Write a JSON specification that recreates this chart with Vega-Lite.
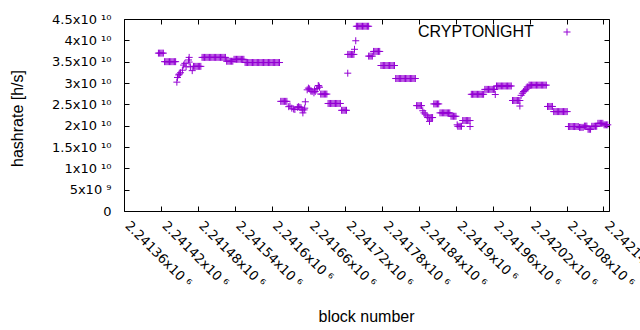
{
"$schema": "https://vega.github.io/schema/vega-lite/v6.json",
"width": 485, "height": 192,
"autosize": "none",
"padding": {"left": 124, "top": 19, "right": 31, "bottom": 119},
"background": "white",
"config": {
  "font": "Liberation Sans",
  "view": {"stroke": "black", "strokeWidth": 1},
  "axis": {"grid": false, "domain": false, "tickColor": "black", "tickSize": -5, "labelColor": "black", "titleColor": "black", "labelFont": "DejaVu Sans", "labelFontSize": 13, "titleFontSize": 16, "titleFontWeight": "normal", "labelOverlap": false, "labelBound": false, "labelFlush": false}
},
"data": {"values": [
{"b":2241416,"h":3.7e10},{"b":2241418,"h":3.7e10},{"b":2241420,"h":3.7e10},{"b":2241422,"h":3.7e10},{"b":2241424,"h":3.7e10},
{"b":2241426,"h":3.5e10},{"b":2241428,"h":3.5e10},{"b":2241430,"h":3.5e10},{"b":2241432,"h":3.5e10},{"b":2241434,"h":3.5e10},{"b":2241436,"h":3.5e10},{"b":2241438,"h":3.5e10},{"b":2241440,"h":3.5e10},{"b":2241442,"h":3.5e10},{"b":2241444,"h":3.5e10},
{"b":2241446,"h":3.02e10},{"b":2241447,"h":3.13e10},{"b":2241449,"h":3.19e10},{"b":2241450,"h":3.21e10},{"b":2241452,"h":3.24e10},{"b":2241455,"h":3.3e10},{"b":2241457,"h":3.42e10},{"b":2241459,"h":3.46e10},{"b":2241461,"h":3.38e10},{"b":2241465,"h":3.54e10},{"b":2241466,"h":3.6e10},{"b":2241466,"h":3.49e10},{"b":2241468,"h":3.38e10},{"b":2241471,"h":3.29e10},
{"b":2241473,"h":3.39e10},{"b":2241475,"h":3.39e10},{"b":2241477,"h":3.39e10},{"b":2241479,"h":3.39e10},{"b":2241481,"h":3.39e10},{"b":2241483,"h":3.39e10},{"b":2241485,"h":3.39e10},
{"b":2241487,"h":3.6e10},{"b":2241489,"h":3.6e10},{"b":2241491,"h":3.6e10},{"b":2241493,"h":3.6e10},{"b":2241495,"h":3.6e10},{"b":2241497,"h":3.6e10},{"b":2241499,"h":3.6e10},{"b":2241501,"h":3.6e10},{"b":2241503,"h":3.6e10},{"b":2241505,"h":3.6e10},{"b":2241507,"h":3.6e10},{"b":2241509,"h":3.6e10},{"b":2241511,"h":3.6e10},{"b":2241513,"h":3.6e10},{"b":2241515,"h":3.6e10},{"b":2241517,"h":3.6e10},{"b":2241519,"h":3.6e10},{"b":2241521,"h":3.6e10},{"b":2241523,"h":3.6e10},{"b":2241525,"h":3.6e10},
{"b":2241527,"h":3.51e10},{"b":2241529,"h":3.51e10},{"b":2241531,"h":3.51e10},{"b":2241533,"h":3.51e10},{"b":2241535,"h":3.51e10},{"b":2241537,"h":3.51e10},
{"b":2241539,"h":3.555e10},{"b":2241541,"h":3.555e10},{"b":2241543,"h":3.555e10},{"b":2241545,"h":3.555e10},{"b":2241547,"h":3.555e10},{"b":2241549,"h":3.555e10},{"b":2241551,"h":3.555e10},{"b":2241553,"h":3.555e10},{"b":2241555,"h":3.555e10},
{"b":2241557,"h":3.48e10},{"b":2241559,"h":3.48e10},{"b":2241561,"h":3.48e10},{"b":2241563,"h":3.48e10},{"b":2241565,"h":3.48e10},{"b":2241567,"h":3.48e10},{"b":2241569,"h":3.48e10},{"b":2241571,"h":3.48e10},{"b":2241573,"h":3.48e10},{"b":2241575,"h":3.48e10},{"b":2241577,"h":3.48e10},{"b":2241579,"h":3.48e10},{"b":2241581,"h":3.48e10},{"b":2241583,"h":3.48e10},{"b":2241585,"h":3.48e10},{"b":2241587,"h":3.48e10},{"b":2241589,"h":3.48e10},{"b":2241591,"h":3.48e10},{"b":2241593,"h":3.48e10},{"b":2241595,"h":3.48e10},{"b":2241597,"h":3.48e10},{"b":2241599,"h":3.48e10},{"b":2241601,"h":3.48e10},{"b":2241603,"h":3.48e10},{"b":2241605,"h":3.48e10},{"b":2241607,"h":3.48e10},{"b":2241609,"h":3.48e10},{"b":2241611,"h":3.48e10},{"b":2241613,"h":3.48e10},
{"b":2241615,"h":2.57e10},{"b":2241617,"h":2.57e10},{"b":2241619,"h":2.57e10},{"b":2241621,"h":2.57e10},{"b":2241623,"h":2.57e10},{"b":2241625,"h":2.57e10},
{"b":2241628,"h":2.445e10},{"b":2241630,"h":2.46e10},{"b":2241633,"h":2.41e10},{"b":2241636,"h":2.39e10},{"b":2241638,"h":2.38e10},{"b":2241642,"h":2.43e10},{"b":2241644,"h":2.445e10},{"b":2241646,"h":2.43e10},{"b":2241648,"h":2.42e10},{"b":2241650,"h":2.37e10},{"b":2241651,"h":2.3e10},{"b":2241653,"h":2.37e10},{"b":2241654,"h":2.41e10},{"b":2241655,"h":2.56e10},
{"b":2241658,"h":2.84e10},{"b":2241660,"h":2.88e10},{"b":2241662,"h":2.86e10},{"b":2241664,"h":2.81e10},{"b":2241666,"h":2.8e10},{"b":2241669,"h":2.77e10},{"b":2241670,"h":2.84e10},{"b":2241671,"h":2.8e10},{"b":2241674,"h":2.87e10},{"b":2241676,"h":2.94e10},{"b":2241677,"h":2.93e10},{"b":2241678,"h":2.9e10},
{"b":2241680,"h":2.74e10},{"b":2241682,"h":2.74e10},{"b":2241684,"h":2.74e10},{"b":2241686,"h":2.74e10},{"b":2241688,"h":2.74e10},{"b":2241690,"h":2.74e10},
{"b":2241692,"h":2.52e10},{"b":2241694,"h":2.52e10},{"b":2241696,"h":2.52e10},{"b":2241698,"h":2.52e10},{"b":2241700,"h":2.52e10},{"b":2241702,"h":2.52e10},{"b":2241704,"h":2.52e10},{"b":2241706,"h":2.52e10},{"b":2241708,"h":2.52e10},{"b":2241710,"h":2.52e10},{"b":2241712,"h":2.52e10},
{"b":2241714,"h":2.36e10},{"b":2241716,"h":2.36e10},{"b":2241718,"h":2.36e10},{"b":2241720,"h":2.36e10},{"b":2241722,"h":2.36e10},
{"b":2241724,"h":3.23e10},
{"b":2241724,"h":3.67e10},{"b":2241726,"h":3.67e10},{"b":2241728,"h":3.67e10},{"b":2241730,"h":3.67e10},{"b":2241732,"h":3.67e10},{"b":2241734,"h":3.67e10},
{"b":2241735,"h":3.79e10},{"b":2241737,"h":3.99e10},
{"b":2241738,"h":4.33e10},{"b":2241740,"h":4.33e10},{"b":2241742,"h":4.33e10},{"b":2241744,"h":4.33e10},{"b":2241746,"h":4.33e10},{"b":2241748,"h":4.33e10},{"b":2241750,"h":4.33e10},{"b":2241752,"h":4.33e10},{"b":2241754,"h":4.33e10},{"b":2241756,"h":4.33e10},{"b":2241758,"h":4.33e10},
{"b":2241758,"h":3.63e10},{"b":2241760,"h":3.63e10},{"b":2241762,"h":3.63e10},{"b":2241764,"h":3.63e10},
{"b":2241766,"h":3.74e10},{"b":2241768,"h":3.74e10},{"b":2241770,"h":3.74e10},{"b":2241772,"h":3.74e10},{"b":2241774,"h":3.74e10},{"b":2241776,"h":3.74e10},
{"b":2241778,"h":3.41e10},{"b":2241780,"h":3.41e10},{"b":2241782,"h":3.41e10},{"b":2241784,"h":3.41e10},{"b":2241786,"h":3.41e10},{"b":2241788,"h":3.41e10},{"b":2241790,"h":3.41e10},{"b":2241792,"h":3.41e10},{"b":2241794,"h":3.41e10},{"b":2241796,"h":3.41e10},{"b":2241798,"h":3.41e10},{"b":2241800,"h":3.41e10},
{"b":2241802,"h":3.105e10},{"b":2241804,"h":3.105e10},{"b":2241806,"h":3.105e10},{"b":2241808,"h":3.105e10},{"b":2241810,"h":3.105e10},{"b":2241812,"h":3.105e10},{"b":2241814,"h":3.105e10},{"b":2241816,"h":3.105e10},{"b":2241818,"h":3.105e10},{"b":2241820,"h":3.105e10},{"b":2241822,"h":3.105e10},{"b":2241824,"h":3.105e10},{"b":2241826,"h":3.105e10},{"b":2241828,"h":3.105e10},{"b":2241830,"h":3.105e10},{"b":2241832,"h":3.105e10},{"b":2241834,"h":3.105e10},
{"b":2241836,"h":2.47e10},{"b":2241838,"h":2.47e10},{"b":2241840,"h":2.47e10},{"b":2241842,"h":2.47e10},{"b":2241844,"h":2.47e10},
{"b":2241846,"h":2.35e10},{"b":2241848,"h":2.3e10},{"b":2241850,"h":2.27e10},{"b":2241853,"h":2.23e10},
{"b":2241854,"h":2.19e10},{"b":2241856,"h":2.19e10},{"b":2241858,"h":2.19e10},{"b":2241860,"h":2.19e10},{"b":2241862,"h":2.19e10},
{"b":2241857,"h":2.1e10},
{"b":2241864,"h":2.51e10},{"b":2241866,"h":2.51e10},{"b":2241868,"h":2.51e10},{"b":2241870,"h":2.51e10},{"b":2241872,"h":2.51e10},
{"b":2241874,"h":2.3e10},{"b":2241876,"h":2.3e10},{"b":2241878,"h":2.3e10},{"b":2241880,"h":2.3e10},{"b":2241882,"h":2.3e10},{"b":2241884,"h":2.3e10},{"b":2241886,"h":2.3e10},{"b":2241888,"h":2.3e10},{"b":2241890,"h":2.3e10},
{"b":2241892,"h":2.22e10},{"b":2241894,"h":2.22e10},{"b":2241896,"h":2.22e10},{"b":2241898,"h":2.22e10},{"b":2241900,"h":2.22e10},
{"b":2241902,"h":2.02e10},
{"b":2241903,"h":1.985e10},{"b":2241905,"h":1.985e10},{"b":2241907,"h":1.985e10},{"b":2241909,"h":1.985e10},
{"b":2241911,"h":2.12e10},{"b":2241913,"h":2.12e10},{"b":2241915,"h":2.12e10},{"b":2241917,"h":2.12e10},{"b":2241919,"h":2.12e10},{"b":2241921,"h":2.12e10},{"b":2241923,"h":2.12e10},
{"b":2241923,"h":1.98e10},
{"b":2241925,"h":2.735e10},{"b":2241927,"h":2.735e10},{"b":2241929,"h":2.735e10},{"b":2241931,"h":2.735e10},{"b":2241933,"h":2.735e10},{"b":2241935,"h":2.735e10},{"b":2241937,"h":2.735e10},{"b":2241939,"h":2.735e10},{"b":2241941,"h":2.735e10},{"b":2241943,"h":2.735e10},{"b":2241945,"h":2.735e10},
{"b":2241947,"h":2.85e10},{"b":2241949,"h":2.85e10},{"b":2241951,"h":2.85e10},{"b":2241953,"h":2.85e10},{"b":2241955,"h":2.85e10},{"b":2241957,"h":2.85e10},{"b":2241959,"h":2.85e10},{"b":2241961,"h":2.85e10},{"b":2241963,"h":2.85e10},
{"b":2241964,"h":2.73e10},
{"b":2241966,"h":2.93e10},{"b":2241968,"h":2.93e10},{"b":2241970,"h":2.93e10},{"b":2241972,"h":2.93e10},{"b":2241974,"h":2.93e10},{"b":2241976,"h":2.93e10},{"b":2241978,"h":2.93e10},{"b":2241980,"h":2.93e10},{"b":2241982,"h":2.93e10},{"b":2241984,"h":2.93e10},{"b":2241986,"h":2.93e10},{"b":2241988,"h":2.93e10},{"b":2241990,"h":2.93e10},
{"b":2241992,"h":2.59e10},{"b":2241994,"h":2.59e10},{"b":2241996,"h":2.59e10},{"b":2241998,"h":2.59e10},{"b":2242000,"h":2.59e10},{"b":2242002,"h":2.59e10},{"b":2242004,"h":2.59e10},
{"b":2242004,"h":2.46e10},{"b":2242006,"h":2.71e10},{"b":2242008,"h":2.76e10},{"b":2242010,"h":2.8e10},{"b":2242012,"h":2.82e10},{"b":2242014,"h":2.85e10},{"b":2242016,"h":2.91e10},{"b":2242017,"h":2.88e10},
{"b":2242019,"h":2.95e10},{"b":2242021,"h":2.95e10},{"b":2242023,"h":2.95e10},{"b":2242025,"h":2.95e10},{"b":2242027,"h":2.95e10},{"b":2242029,"h":2.95e10},{"b":2242031,"h":2.95e10},{"b":2242033,"h":2.95e10},{"b":2242035,"h":2.95e10},{"b":2242037,"h":2.95e10},{"b":2242039,"h":2.95e10},{"b":2242041,"h":2.95e10},{"b":2242043,"h":2.95e10},{"b":2242045,"h":2.95e10},{"b":2242047,"h":2.95e10},
{"b":2242049,"h":2.45e10},{"b":2242051,"h":2.45e10},{"b":2242053,"h":2.45e10},{"b":2242055,"h":2.45e10},{"b":2242057,"h":2.45e10},
{"b":2242059,"h":2.33e10},{"b":2242061,"h":2.33e10},{"b":2242063,"h":2.33e10},{"b":2242065,"h":2.33e10},{"b":2242067,"h":2.33e10},{"b":2242069,"h":2.33e10},{"b":2242071,"h":2.33e10},{"b":2242073,"h":2.33e10},{"b":2242075,"h":2.33e10},{"b":2242077,"h":2.33e10},{"b":2242079,"h":2.33e10},{"b":2242081,"h":2.33e10},
{"b":2242083,"h":1.98e10},{"b":2242085,"h":1.98e10},{"b":2242087,"h":1.98e10},{"b":2242089,"h":1.98e10},{"b":2242091,"h":1.98e10},{"b":2242093,"h":1.98e10},{"b":2242095,"h":1.98e10},{"b":2242097,"h":1.98e10},{"b":2242099,"h":1.98e10},
{"b":2242101,"h":1.96e10},{"b":2242103,"h":1.96e10},{"b":2242105,"h":1.96e10},{"b":2242107,"h":1.96e10},
{"b":2242109,"h":1.99e10},{"b":2242111,"h":1.99e10},{"b":2242113,"h":1.99e10},
{"b":2242115,"h":1.915e10},{"b":2242117,"h":1.915e10},{"b":2242119,"h":1.915e10},
{"b":2242121,"h":1.985e10},{"b":2242123,"h":1.985e10},{"b":2242125,"h":1.985e10},{"b":2242127,"h":1.985e10},{"b":2242129,"h":1.985e10},
{"b":2242131,"h":2.055e10},{"b":2242133,"h":2.055e10},{"b":2242135,"h":2.055e10},{"b":2242137,"h":2.055e10},{"b":2242139,"h":2.055e10},
{"b":2242141,"h":2.02e10},{"b":2242143,"h":2.02e10},{"b":2242145,"h":2.02e10},{"b":2242147,"h":2.02e10}
]},
"layer": [
  {
    "mark": {"type": "point", "shape": "M-1,0H1M0,-1V1", "filled": false, "size": 49, "strokeWidth": 1, "opacity": 1},
    "encoding": {
      "x": {"field": "b", "type": "quantitative", "title": "block number",
        "scale": {"domain": [2241360, 2242149], "nice": false, "zero": false},
        "axis": {"orient": "bottom", "values": [2241360,2241420,2241480,2241540,2241600,2241660,2241720,2241780,2241840,2241900,2241960,2242020,2242080,2242140],
          "labelExpr": "format(datum.value/1e6, '.5~f') + 'x10 ⁶'", "labelAngle": 45, "labelAlign": "left", "labelBaseline": "alphabetic", "labelPadding": 20,
          "titleX": 242, "titleY": 110, "titleBaseline": "alphabetic", "titleAlign": "center"}},
      "y": {"field": "h", "type": "quantitative", "title": "hashrate [h/s]",
        "scale": {"domain": [0, 4.5e10], "nice": false},
        "axis": {"orient": "left", "values": [0,5e9,1e10,1.5e10,2e10,2.5e10,3e10,3.5e10,4e10,4.5e10],
          "labelExpr": "datum.value == 0 ? '0' : (datum.value < 1e10 ? format(datum.value/1e9, '~g') + 'x10 ⁹' : format(datum.value/1e10, '~g') + 'x10 ¹⁰')",
          "labelPadding": 18, "labelBaseline": "middle",
          "titleX": -102, "titleY": 99, "titleBaseline": "alphabetic", "titleAngle": -90, "titleAlign": "center"}},
      "color": {"datum": "CRYPTONIGHT", "scale": {"range": ["#9400D3"]},
        "legend": {"orient": "none", "legendX": 294, "legendY": 8, "title": "CRYPTONIGHT", "titleOrient": "left", "titleFontSize": 16, "titleFontWeight": "normal", "titleColor": "black", "titlePadding": 28, "titleFont": "Liberation Sans",
          "labelExpr": "''", "symbolType": "M-1,0H1M0,-1V1", "symbolSize": 49, "symbolStrokeWidth": 1, "symbolFillColor": "transparent", "symbolStrokeColor": "#9400D3", "padding": 0}}
    }
  },
  {
    "mark": {"type": "point", "opacity": 0},
    "encoding": {
      "x": {"field": "b", "type": "quantitative", "axis": {"orient": "top", "labels": false, "title": null, "values": [2241360,2241420,2241480,2241540,2241600,2241660,2241720,2241780,2241840,2241900,2241960,2242020,2242080,2242140]}},
      "y": {"field": "h", "type": "quantitative", "axis": {"orient": "right", "labels": false, "title": null, "values": [0,5e9,1e10,1.5e10,2e10,2.5e10,3e10,3.5e10,4e10,4.5e10]}}
    }
  }
],
"resolve": {"axis": {"x": "independent", "y": "independent"}}
}
